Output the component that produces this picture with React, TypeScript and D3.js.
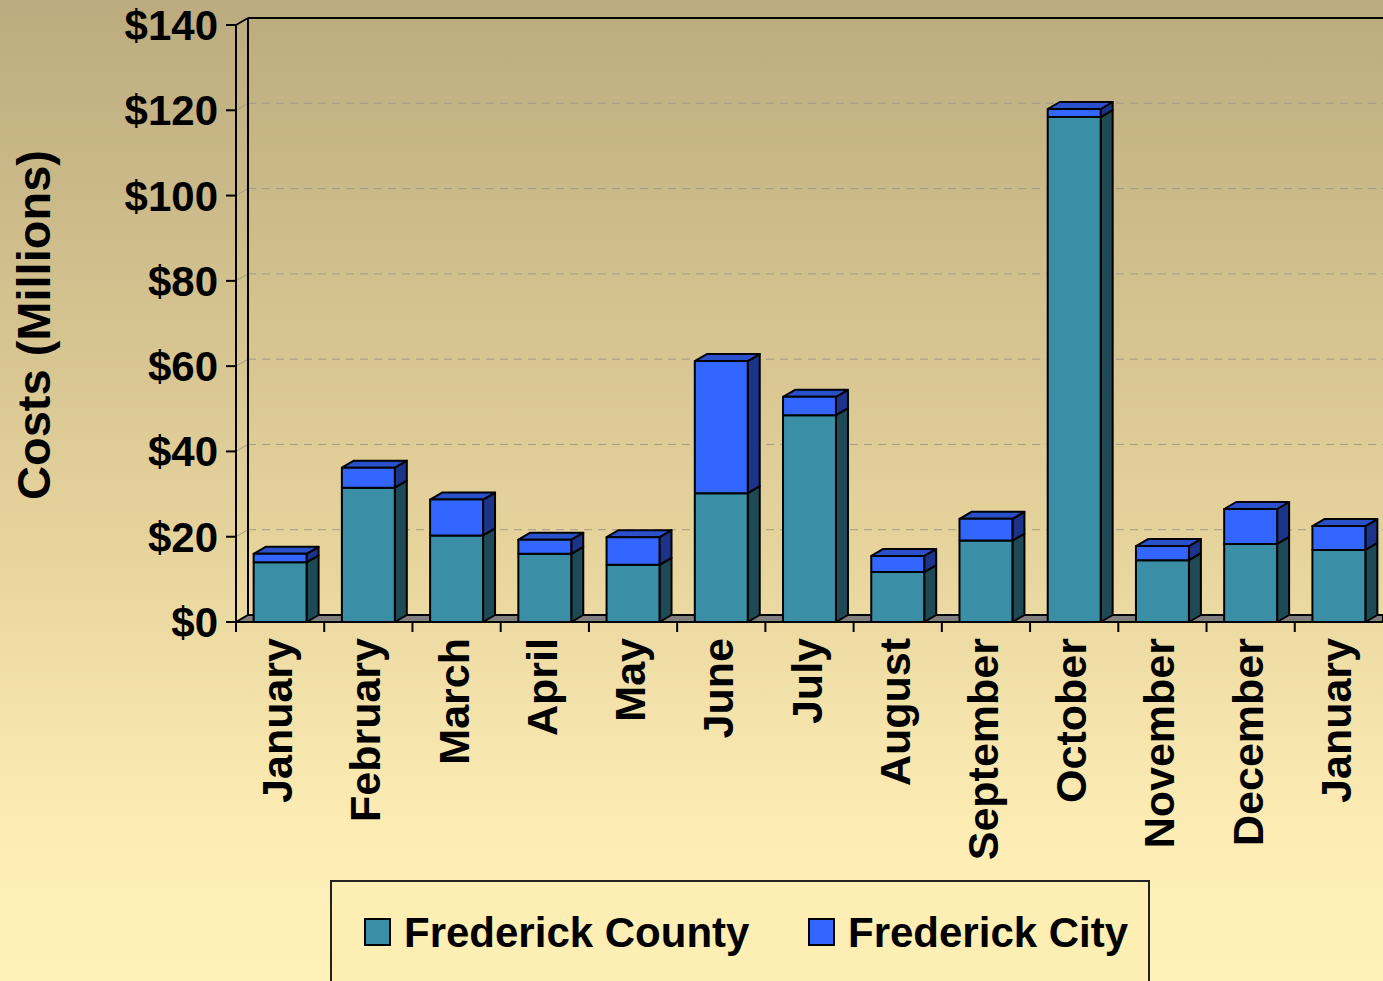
import { useEffect } from 'react';
import * as d3 from 'd3';

const months = [
  'January', 'February', 'March', 'April', 'May', 'June', 'July',
  'August', 'September', 'October', 'November', 'December', 'January',
];
const countyCosts = [14, 31.5, 20.3, 16, 13.4, 30.2, 48.5, 11.7, 19.1, 118.4, 14.5, 18.3, 16.9];
const cityCosts = [2, 4.7, 8.4, 3.3, 6.5, 31, 4.3, 3.8, 5.1, 1.9, 3.3, 8.2, 5.6];
const yTicks = [0, 20, 40, 60, 80, 100, 120, 140];
const seriesNames = ['Frederick County', 'Frederick City'];

const W = 1383;
const H = 981;
const DX = 12;
const DY = -7;
const FONT = '"Liberation Sans", Arial, sans-serif';

const faces = {
  county: { front: '#3a8fa6', side: '#1e4a56', top: '#2f7689' },
  city: { front: '#3366ff', side: '#1b3388', top: '#2a50cc' },
};

export default function App() {
  useEffect(() => {
    document.body.style.margin = '0';
  }, []);

  const x = d3.scaleBand<number>().domain(d3.range(months.length)).range([236, 1383]).paddingInner(0.4).paddingOuter(0.2);
  const y = d3.scaleLinear().domain([0, 140]).range([622, 25]);
  const x0 = 236;
  const x1 = W;
  const bw = x.bandwidth();
  const step = x.step();

  const box = (key: string, left: number, top: number, bottom: number, c: { front: string; side: string; top: string }, withTop: boolean) => {
    const r = left + bw;
    return (
      <g key={key} stroke="#000" strokeWidth={2} strokeLinejoin="round">
        <polygon points={`${r},${top} ${r + DX},${top + DY} ${r + DX},${bottom + DY} ${r},${bottom}`} fill={c.side} />
        {withTop && (
          <polygon points={`${left},${top} ${left + DX},${top + DY} ${r + DX},${top + DY} ${r},${top}`} fill={c.top} />
        )}
        <rect x={left} y={top} width={bw} height={bottom - top} fill={c.front} />
      </g>
    );
  };

  return (
    <svg width={W} height={H} style={{ display: 'block' }} fontFamily={FONT}>
      <defs>
        <linearGradient id="bg" x1="0" y1="0" x2="0" y2="1">
          <stop offset="0" stopColor="#bcab7e" />
          <stop offset="0.55" stopColor="#e6d39c" />
          <stop offset="0.85" stopColor="#fdedb4" />
          <stop offset="1" stopColor="#fff1b8" />
        </linearGradient>
      </defs>
      <rect width={W} height={H} fill="url(#bg)" />

      {/* gridlines on back wall */}
      {yTicks.slice(1, -1).map((t) => (
        <g key={t} stroke="#a19a88" strokeWidth={1}>
          <line x1={x0} y1={y(t)} x2={x0 + DX} y2={y(t) + DY} />
          <line x1={x0 + DX} y1={y(t) + DY} x2={x1} y2={y(t) + DY} strokeDasharray="8,6" />
        </g>
      ))}

      {/* floor */}
      <polygon
        points={`${x0},${y(0)} ${x0 + DX},${y(0) + DY} ${x1},${y(0) + DY} ${x1},${y(0)}`}
        fill="#7f7f7f"
        stroke="#000"
        strokeWidth={2}
      />

      {/* walls */}
      <g stroke="#000" strokeWidth={2} fill="none">
        <line x1={x0 + DX} y1={y(140) + DY} x2={x0 + DX} y2={y(0) + DY} />
        <line x1={x0 + DX} y1={y(140) + DY} x2={x1} y2={y(140) + DY} />
        <line x1={x0} y1={y(140)} x2={x0 + DX} y2={y(140) + DY} />
        <line x1={x0} y1={y(140)} x2={x0} y2={y(0) + 10} />
      </g>

      {/* bars */}
      {months.map((m, i) => {
        const left = x(i)!;
        const c = countyCosts[i];
        const t = c + cityCosts[i];
        return (
          <g key={i}>
            {box(`c${i}`, left, y(c), y(0), faces.county, false)}
            {box(`t${i}`, left, y(t), y(c), faces.city, true)}
          </g>
        );
      })}

      {/* x axis */}
      <line x1={x0} y1={y(0)} x2={x1} y2={y(0)} stroke="#000" strokeWidth={2} />
      {months.map((m, i) => (
        <line key={`xt${i}`} x1={x0 + step * i} y1={y(0)} x2={x0 + step * i} y2={y(0) + 10} stroke="#000" strokeWidth={2} />
      ))}
      {months.map((m, i) => {
        const cx = x(i)! + bw / 2;
        return (
          <text
            key={`xl${i}`}
            transform={`translate(${cx + 12},${y(0) + 16}) rotate(-90)`}
            textAnchor="end"
            fontSize={43}
            fontWeight="bold"
          >
            {m}
          </text>
        );
      })}

      {/* y axis */}
      {yTicks.map((t) => (
        <g key={`yt${t}`}>
          <line x1={x0 - 10} y1={y(t)} x2={x0} y2={y(t)} stroke="#000" strokeWidth={2} />
          <text x={218} y={y(t) + 15} textAnchor="end" fontSize={42} fontWeight="bold">
            ${t}
          </text>
        </g>
      ))}
      <text transform={`translate(50,325) rotate(-90)`} textAnchor="middle" fontSize={47} fontWeight="bold">
        Costs (Millions)
      </text>

      {/* legend */}
      <rect x={331} y={881} width={818} height={120} fill="#fdeeb3" stroke="#222" strokeWidth={2} />
      {seriesNames.map((name, i) => {
        const lx = i === 0 ? 365 : 809;
        const c = i === 0 ? faces.county.front : faces.city.front;
        return (
          <g key={name}>
            <rect x={lx} y={919} width={25} height={26} fill={c} stroke="#000" strokeWidth={2} />
            <text x={lx + 39} y={947} fontSize={42} fontWeight="bold">
              {name}
            </text>
          </g>
        );
      })}
    </svg>
  );
}
